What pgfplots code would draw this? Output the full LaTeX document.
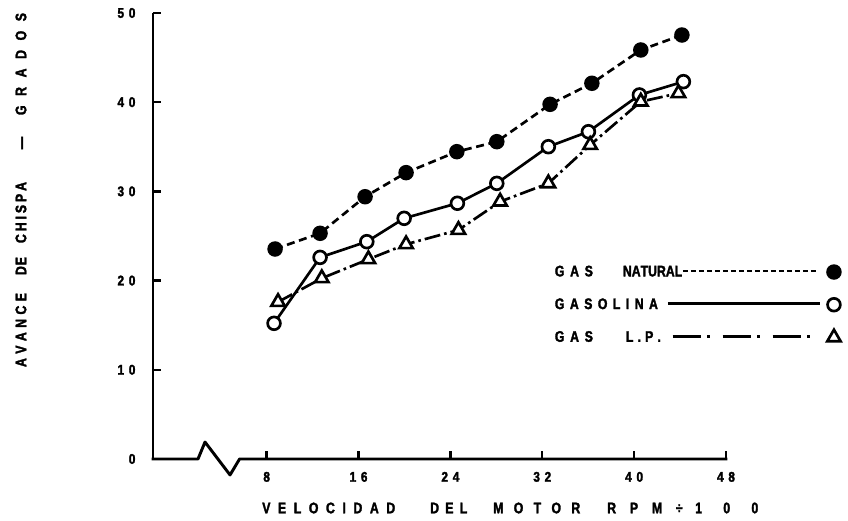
\documentclass[border=0pt]{standalone}
\usepackage{pgfplots}
\pgfplotsset{compat=1.18}
\usepackage{fontspec}
\setmainfont{Liberation Sans}
\newfontfamily\lblfont{Liberation Sans Bold}[FakeStretch=0.8, FakeBold=2]
\newfontfamily\tickfont{Liberation Sans Bold}[FakeStretch=0.85, FakeBold=2]
\newcommand\tsp{\hspace{3.5pt}}
\newcommand\dashfill{\leaders\hbox to 6pt{\rule[3.2pt]{4pt}{1.8pt}\hfil}\hfill}
\newcommand\solidfill{\leaders\hrule height 5pt depth -3.2pt\hfill}
\newcommand\dashdotfill{\cleaders\hbox to 37.5pt{\hfil\rule[3.2pt]{21pt}{1.8pt}\hfil\rule[3pt]{2.4pt}{2.4pt}\hfil}\hfill}

\pgfplotstableread{
x y
8.73 23.54
12.65 25.30
16.57 29.40
20.14 32.10
24.56 34.45
28.04 35.57
32.68 39.76
36.32 42.12
40.58 45.85
44.16 47.53
}\gasnatural
\pgfplotstableread{
x y
8.64 15.21
12.65 22.60
16.72 24.36
19.97 26.98
24.61 28.67
28.04 30.90
32.53 35.01
36.02 36.69
40.46 40.81
44.29 42.30
}\gasolina
\pgfplotstableread{
x y
8.99 17.60
12.80 20.26
16.86 22.39
20.14 24.07
24.70 25.67
28.33 28.85
32.53 30.90
36.17 35.20
40.58 40.06
43.86 41.00
}\gaslp

\begin{document}
\begin{tikzpicture}
\begin{axis}[
  scale only axis, width=429.75pt, height=334.5pt,
  xmin=-1.9, xmax=48, ymin=0, ymax=50,
  axis lines=left,
  axis line style={-, line width=2.2pt},
  x axis line style={draw=none},
  tick align=inside,
  major tick length=6pt,
  every tick/.style={black, line width=1.8pt},
  xtick={8,16,24,32,40,48},
  xticklabels={8,1\tsp 6,2\tsp 4,3\tsp 2,4\tsp 0,4\tsp 8},
  ytick={0,10,20,30,40,50},
  yticklabels={0,1\tsp 0,2\tsp 0,3\tsp 0,4\tsp 0,5\tsp 0},
  tick label style={font=\tickfont\fontsize{10.5}{12}\selectfont, inner sep=0pt},
  xticklabel style={anchor=north, yshift=-9.5pt},
  yticklabel style={anchor=east, xshift=-13pt},
  clip=false,
  xlabel={\makebox[99.75pt][s]{V\hfill E\hfill L\hfill O\hfill C\hfill I\hfill D\hfill A\hfill D}\hspace{26.25pt}\makebox[27.75pt][s]{D\hfill E\hfill L}\hspace{19.5pt}\makebox[65.25pt][s]{M\hfill O\hfill T\hfill O\hfill R}\hspace{20.25pt}\makebox[41.25pt][s]{R\hfill P\hfill M}\hspace{6pt}\makebox[13.5pt]{÷}\hspace{5.25pt}\makebox[47.25pt][s]{1\hfill 0\hfill 0}},
  ylabel={\makebox[55.5pt][s]{A\hfill V\hfill A\hfill N\hfill C\hfill E}\hspace{13.5pt}\makebox[13.5pt][s]{D\hfill E}\hspace{10.5pt}\makebox[45.75pt][s]{C\hfill H\hfill I\hfill S\hfill P\hfill A}\hspace{21.75pt}\makebox[15pt]{—}\hspace{13.5pt}\makebox[76.5pt][s]{G\hfill R\hfill A\hfill D\hfill O\hfill S}},
  label style={font=\lblfont\fontsize{11.5}{13}\selectfont, inner sep=0pt},
  xlabel style={at={(axis description cs:0.1902,-0.1099)}, anchor=west},
  ylabel style={at={(axis description cs:-0.2304,0.6031)}, anchor=center},
  legend plot pos=right,
  legend cell align=left,
  legend image code/.code={\draw[#1] plot coordinates {(0pt,0pt)};},
  legend style={draw=none, fill=none, inner sep=0pt,
    at={(axis description cs:0.6963,0.44)}, anchor=north west,
    row sep=11pt, column sep=3.5pt,
    font=\lblfont\fontsize{11.5}{13}\selectfont},
]
\path (axis description cs:-0.267,-0.139) rectangle (axis description cs:1.2129,1.0291);
\draw[line width=2.2pt, line join=round, line cap=rect] (axis cs:-1.9,0) -- (axis cs:2.02,0) -- (axis cs:2.63,1.9) -- (axis cs:4.81,-1.79) -- (axis cs:5.64,0) -- (axis cs:48,0);

\addplot[black, line width=2pt, dash pattern=on 6pt off 3.5pt, mark=*, mark size=4.8pt, mark options={solid, fill=black}] table[x=x,y=y] {\gasnatural};
\addlegendentry{\hbox to 198.75pt{\makebox[28.5pt][s]{G\hfill A\hfill S}\hspace{22.5pt}\makebox[43.5pt][s]{N\hfill A\hfill T\hfill U\hfill R\hfill A\hfill L}\dashfill}}

\addplot[black, line width=2pt, mark=*, mark size=4.8pt, mark options={solid, fill=white, line width=2pt}] table[x=x,y=y] {\gasolina};
\addlegendentry{\hbox to 198.75pt{\makebox[77.25pt][s]{G\hfill A\hfill S\hfill O\hfill L\hfill I\hfill N\hfill A}\hspace{7.5pt}\solidfill}}

\addplot[black, line width=2pt, dash pattern=on 12pt off 3pt on 2pt off 3pt, mark=triangle*, mark size=5.8pt, mark options={solid, fill=white, line width=2pt}] table[x=x,y=y] {\gaslp};
\addlegendentry{\hbox to 198.75pt{\makebox[28.5pt][s]{G\hfill A\hfill S}\hspace{24.75pt}\makebox[26.25pt][s]{L\hfill .\hfill P\hfill .}\hspace{1.5pt}\dashdotfill}}
\end{axis}
\end{tikzpicture}
\end{document}
